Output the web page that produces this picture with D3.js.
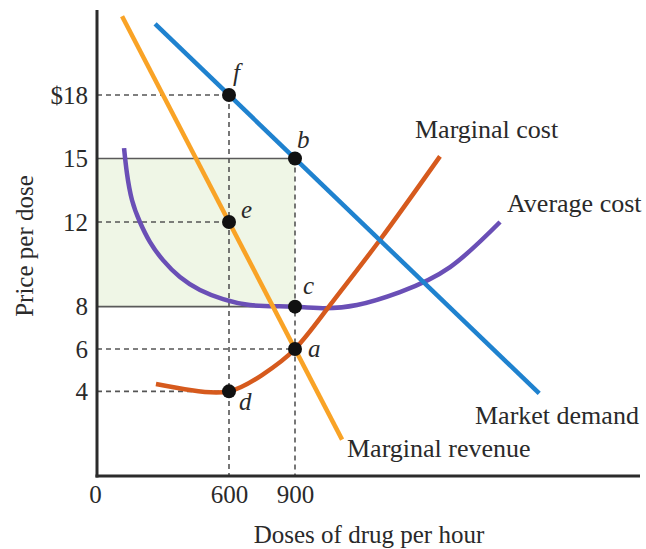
<!DOCTYPE html>
<html>
<head>
<meta charset="utf-8">
<script src="https://cdn.jsdelivr.net/npm/d3@7"></script>
<style>
  html, body { margin: 0; padding: 0; background: #fff; }
  svg { display: block; }
  text { font-family: "Liberation Serif", "Times New Roman", serif; fill: #2a2a2a; }
</style>
</head>
<body>
<svg id="chart" width="646" height="549"></svg>
<script>
// ---- Data ----
const yTicks = [4, 6, 8, 12, 15, 18];
const xTicks = [0, 600, 900];

const demandQ = [264, 2010];
const demandP = [21.36, 3.9];

const mrQ = [114, 1114];
const mrP = [21.72, 1.72];

const acQ = [123, 136, 159, 195, 241, 300, 377, 468, 573, 695, 818, 900, 1027, 1182, 1377, 1605, 1832];
const acP = [15.49, 14.31, 13.04, 12.0, 11.05, 10.2, 9.4, 8.79, 8.36, 8.08, 8.02, 8.0, 7.93, 8.08, 8.69, 9.87, 12.0];

const mcQ = [268, 430, 600, 750, 900, 1060, 1286, 1559];
const mcP = [4.35, 4.05, 4.0, 4.77, 6.0, 8.08, 11.15, 15.1];

const pointNames = ["f", "b", "e", "c", "a", "d"];
const pointQ = [600, 900, 600, 900, 900, 600];
const pointP = [18, 15, 12, 8, 6, 4];

const profitQ = [0, 900];
const profitP = [8, 15];

// ---- Scales ----
const svg = d3.select("#chart");
const x = d3.scaleLinear().domain([0, 900]).range([97, 295]);
const y = d3.scaleLinear().domain([0, 18]).range([476, 95]);

// shaded profit rectangle
svg.append("rect")
  .attr("x", x(profitQ[0])).attr("width", x(profitQ[1]) - x(profitQ[0]))
  .attr("y", y(profitP[1])).attr("height", y(profitP[0]) - y(profitP[1]))
  .attr("fill", "#eff6e6");

// solid reference lines at 15 and 8
svg.selectAll("line.solidref").data(profitP).enter().append("line")
  .attr("x1", x(0)).attr("x2", x(900))
  .attr("y1", d => y(d)).attr("y2", d => y(d))
  .attr("stroke", "#5a5a5a").attr("stroke-width", 1.6);

// dashed reference lines
const dashStyle = s => s.attr("stroke", "#555").attr("stroke-width", 1.6).attr("stroke-dasharray", "5,4").attr("fill", "none");
const hDash = [[18, 600], [12, 600], [6, 900], [4, 600]];
hDash.forEach(([p, q]) => {
  svg.append("line").attr("x1", x(0)).attr("x2", x(q)).attr("y1", y(p)).attr("y2", y(p)).call(dashStyle);
});
const vDash = [[600, 18], [900, 15]];
vDash.forEach(([q, p]) => {
  svg.append("line").attr("x1", x(q)).attr("x2", x(q)).attr("y1", y(p)).attr("y2", y(0)).call(dashStyle);
});

// curves
const lineGen = d3.line().x(d => x(d[0])).y(d => y(d[1]));
const smoothGen = d3.line().x(d => x(d[0])).y(d => y(d[1])).curve(d3.curveNatural);
const zip = (a, b) => a.map((v, i) => [v, b[i]]);

svg.append("path").datum(zip(acQ, acP)).attr("d", smoothGen)
  .attr("fill", "none").attr("stroke", "#6a4fb6").attr("stroke-width", 4.5).attr("stroke-linecap", "butt");
svg.append("path").datum(zip(mcQ, mcP)).attr("d", smoothGen)
  .attr("fill", "none").attr("stroke", "#d65a1d").attr("stroke-width", 4.5).attr("stroke-linecap", "butt");
svg.append("path").datum(zip(demandQ, demandP)).attr("d", lineGen)
  .attr("fill", "none").attr("stroke", "#1f82cf").attr("stroke-width", 4.5).attr("stroke-linecap", "butt");
svg.append("path").datum(zip(mrQ, mrP)).attr("d", lineGen)
  .attr("fill", "none").attr("stroke", "#f9a326").attr("stroke-width", 4.5).attr("stroke-linecap", "butt");

// axes
const yAxis = d3.axisLeft(y).tickValues(yTicks).tickSize(0).tickPadding(9)
  .tickFormat(d => d === 18 ? "$18" : String(d));
const gy = svg.append("g").attr("transform", `translate(${x(0)},0)`).call(yAxis);
gy.select(".domain").remove();
gy.selectAll("text").style("font-family", "'Liberation Serif', serif").style("font-size", "25px").attr("fill", "#2a2a2a");

const xAxis = d3.axisBottom(x).tickValues(xTicks).tickSize(0).tickPadding(9).tickFormat(d3.format("d"));
const gx = svg.append("g").attr("transform", `translate(0,${y(0)})`).call(xAxis);
gx.select(".domain").remove();
gx.selectAll("text").style("font-family", "'Liberation Serif', serif").style("font-size", "25px").attr("fill", "#2a2a2a");
gx.selectAll(".tick").filter(d => d === 0).select("text").attr("x", -2);

// axis lines
svg.append("line").attr("x1", x(0)).attr("x2", x(0)).attr("y1", 10).attr("y2", y(0) + 1.5)
  .attr("stroke", "#2b2b2b").attr("stroke-width", 3);
svg.append("line").attr("x1", x(0) - 1.5).attr("x2", 640).attr("y1", y(0)).attr("y2", y(0))
  .attr("stroke", "#2b2b2b").attr("stroke-width", 3);

// points
const pts = pointNames.map((n, i) => ({ n, q: pointQ[i], p: pointP[i] }));
svg.selectAll("circle.pt").data(pts).enter().append("circle")
  .attr("cx", d => x(d.q)).attr("cy", d => y(d.p)).attr("r", 7).attr("fill", "#111");

const labelOffsets = { f: [4, -14], b: [2, -11], e: [12, -4], c: [8, -13], a: [13, 8], d: [10, 19] };
svg.selectAll("text.pl").data(pts).enter().append("text")
  .attr("x", d => x(d.q) + labelOffsets[d.n][0])
  .attr("y", d => y(d.p) + labelOffsets[d.n][1])
  .style("font-style", "italic").style("font-size", "25px")
  .text(d => d.n);

// curve labels
const curveLabels = [
  ["Marginal cost", 415, 138],
  ["Average cost", 507, 212],
  ["Market demand", 475, 424],
  ["Marginal revenue", 347, 457]
];
svg.selectAll("text.cl").data(curveLabels).enter().append("text")
  .attr("x", d => d[1]).attr("y", d => d[2])
  .style("font-size", "26px").text(d => d[0]);

// axis titles
svg.append("text").attr("x", 369).attr("y", 543).attr("text-anchor", "middle")
  .style("font-size", "25px").text("Doses of drug per hour");
svg.append("text").attr("transform", "translate(33,246) rotate(-90)").attr("text-anchor", "middle")
  .style("font-size", "25px").text("Price per dose");
</script>
</body>
</html>
